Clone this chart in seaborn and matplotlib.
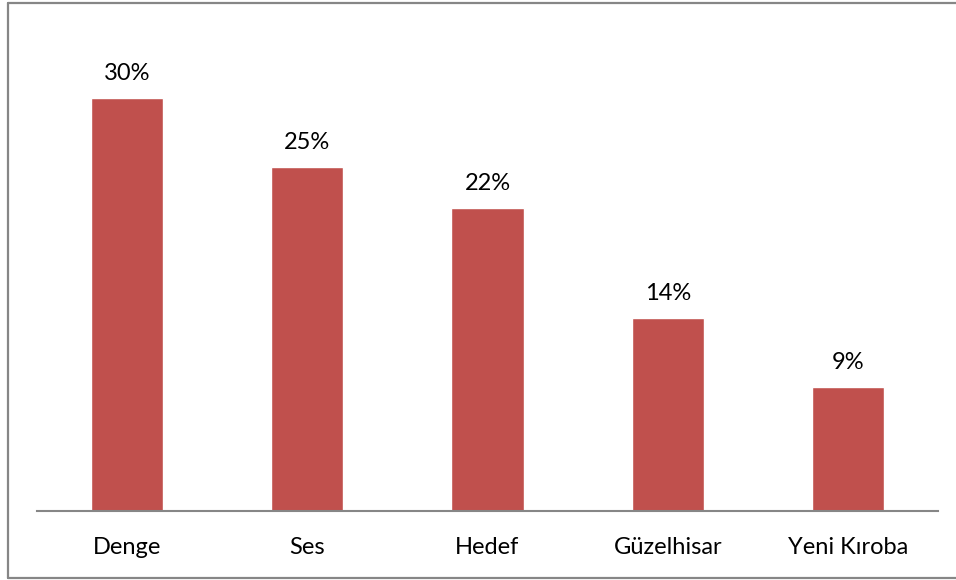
import matplotlib
matplotlib.use("Agg")
import matplotlib.pyplot as plt
from matplotlib.lines import Line2D
import seaborn as sns
import pandas as pd

# chart data
teams = ["Denge", "Ses", "Hedef", "Güzelhisar", "Yeni Kıroba"]
shares = [30, 25, 22, 14, 9]
labels = ["30%", "25%", "22%", "14%", "9%"]

bar_color = "#C0504D"
line_color = "#868686"

sns.set_theme(style="white")
plt.rcParams["font.family"] = ["Lato", "DejaVu Sans"]

df = pd.DataFrame({"team": teams, "share": shares})

fig = plt.figure(figsize=(9.56, 5.8), dpi=100)
ax = fig.add_axes([37 / 956, 69 / 580, 901 / 956, (511 - 29) / 580])

sns.barplot(data=df, x="team", y="share", color=bar_color, width=0.4,
            saturation=1, ax=ax)

ax.set_xlim(-0.5, 4.5)
ax.set_ylim(0, 35)

# value labels above bars
for i, (v, lab) in enumerate(zip(shares, labels)):
    ax.annotate(lab, (i, v), xytext=(0, 13), textcoords="offset points",
                ha="center", va="baseline", fontsize=17, color="black")

ax.set_xlabel("")
ax.set_ylabel("")
ax.set_yticks([])
ax.tick_params(axis="x", length=0, pad=18.5, labelsize=17, labelcolor="black")
for side in ["top", "right", "left"]:
    ax.spines[side].set_visible(False)
ax.spines["bottom"].set_color(line_color)
ax.spines["bottom"].set_linewidth(1.5)

# chart frame (left, top, bottom)
W, H = 956, 580
fig.add_artist(Line2D([7.5 / W, 7.5 / W], [1 - 2.5 / H, 1 - 577.5 / H],
                      color=line_color, lw=1.6, transform=fig.transFigure))
fig.add_artist(Line2D([7.5 / W, 1], [1 - 2.5 / H, 1 - 2.5 / H],
                      color=line_color, lw=1.6, transform=fig.transFigure))
fig.add_artist(Line2D([7.5 / W, 1], [1 - 577.5 / H, 1 - 577.5 / H],
                      color=line_color, lw=1.6, transform=fig.transFigure))

fig.savefig("out.png", dpi=100)
